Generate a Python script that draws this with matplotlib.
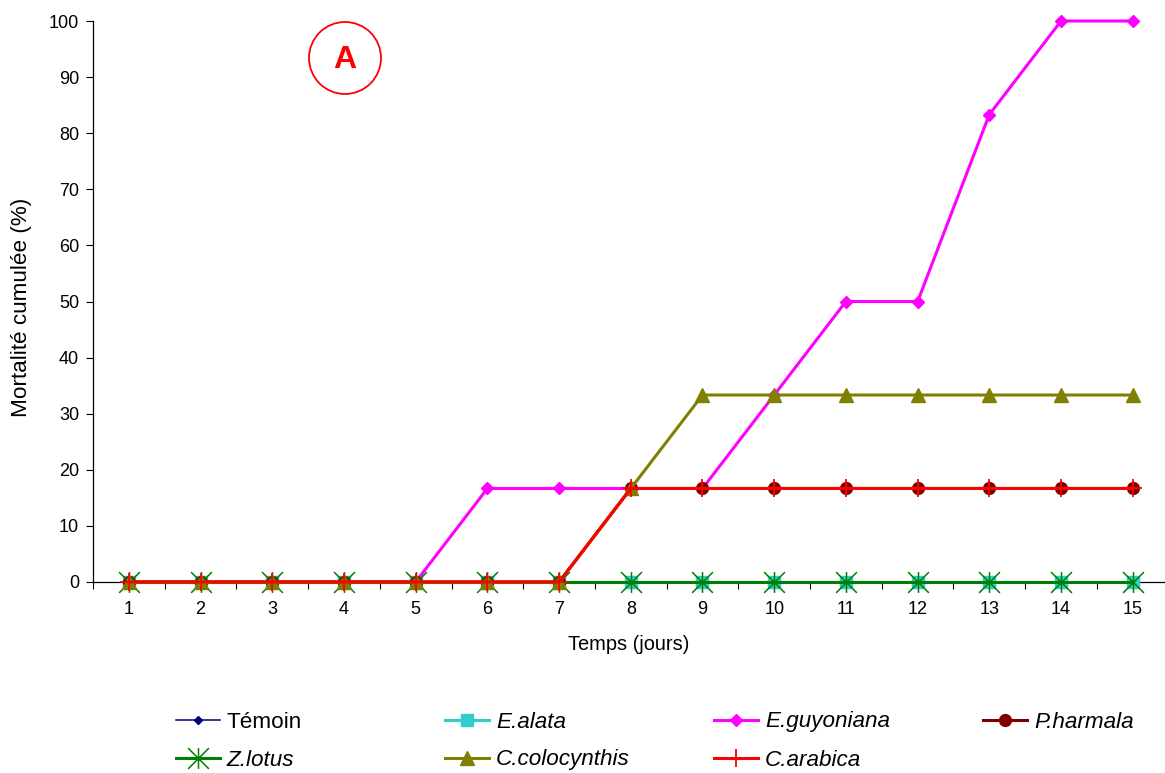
import numpy as np
import matplotlib
matplotlib.use("Agg")
import matplotlib.pyplot as plt
from matplotlib.path import Path
from matplotlib.patches import Circle
from matplotlib.lines import Line2D

plt.rcParams["font.family"] = ["Liberation Sans", "DejaVu Sans"]

days = list(range(1, 16))
temoin = [0] * 15
e_alata = [0] * 15
e_guyoniana = [0, 0, 0, 0, 0, 16.67, 16.67, 16.67, 16.67, 33.33, 50, 50, 83.33, 100, 100]
p_harmala = [0] * 7 + [16.67] * 8
z_lotus = [0] * 15
c_colocynthis = [0] * 7 + [16.67] + [33.33] * 7
c_arabica = [0] * 7 + [16.67] * 8

labels = ["Témoin", "E.alata", "E.guyoniana", "P.harmala", "Z.lotus", "C.colocynthis", "C.arabica"]
series = [temoin, e_alata, e_guyoniana, p_harmala, z_lotus, c_colocynthis, c_arabica]

STAR = Path([(-1, -1), (1, 1), (-1, 1), (1, -1), (0, -1), (0, 1)],
            [Path.MOVETO, Path.LINETO, Path.MOVETO, Path.LINETO, Path.MOVETO, Path.LINETO])
STYLE = [
    dict(color="#000080", lw=1.1, marker="D", ms=4.5),
    dict(color="#33CCCC", lw=2.2, marker="s", ms=8.5),
    dict(color="#FF00FF", lw=2.2, marker="D", ms=6.5),
    dict(color="#800000", lw=2.2, marker="o", ms=8.5),
    dict(color="#008000", lw=2.2, marker=STAR, ms=15, mew=1.1),
    dict(color="#808000", lw=2.2, marker="^", ms=9.5),
    dict(color="#FF0000", lw=2.2, marker="+", ms=13, mew=1.3),
]

fig = plt.figure(figsize=(11.65, 7.73), dpi=100)
ax = fig.add_axes([93 / 1165, 1 - 582 / 773, 1 - 93 / 1165, (582 - 21) / 773])

lines = []
for i, (y, lab, st) in enumerate(zip(series, labels, STYLE)):
    ln, = ax.plot(days, y, color=st["color"], lw=st["lw"], marker=st["marker"],
                  ms=st["ms"], mfc=st["color"], mec=st["color"], mew=st.get("mew", 1),
                  clip_on=False, zorder=3 + i)
    lines.append(ln)

ax.set_xlim(0.5, 15.45)
ax.set_ylim(0, 100)
ax.set_yticks(np.arange(0, 101, 10))
ax.set_xticks(np.arange(0.5, 15.5, 1))
ax.set_xticklabels([])
ax.set_xticks(days, minor=True)
ax.set_xticklabels([str(d) for d in days], minor=True)
ax.tick_params(axis="x", which="major", direction="out", length=5, width=0.8)
ax.tick_params(axis="x", which="minor", length=0, labelsize=13, pad=14)
ax.tick_params(axis="y", direction="out", length=5, width=0.8, labelsize=13, pad=5)
for s in ("top", "right"):
    ax.spines[s].set_visible(False)
for s in ("left", "bottom"):
    ax.spines[s].set_linewidth(0.9)

ax.set_xlabel("Temps (jours)", fontsize=14.4, labelpad=12)
fig.text(22 / 1165, 1 - 307 / 773, "Mortalité cumulée (%)", rotation=90,
         ha="center", va="center", fontsize=16.2)

# panel badge
fig.add_artist(Circle((3.45, (773 - 58) / 100), 0.36, transform=fig.dpi_scale_trans,
                      fill=False, ec="#FF0000", lw=1.3))
fig.text(345 / 1165, 1 - 60 / 773, "A", color="#FF0000", fontsize=23,
         fontweight="bold", ha="center", va="center")

# legend, laid out on a fixed grid like the original
col_x = [176, 445, 714, 983]
row_y = [722, 760]
for i, (ln, lab) in enumerate(zip(lines, labels)):
    r, c = divmod(i, 4)
    h = Line2D([], [], color=ln.get_color(), lw=ln.get_linewidth(),
               marker=ln.get_marker(), ms=ln.get_markersize(),
               mfc=ln.get_color(), mec=ln.get_color(), mew=ln.get_markeredgewidth())
    fig.legend(handles=[h], labels=[lab], loc="center left",
               bbox_to_anchor=(col_x[c] / 1165, 1 - row_y[r] / 773),
               frameon=False, borderpad=0, borderaxespad=0,
               handlelength=1.96, handletextpad=0.3, numpoints=1,
               prop=dict(size=16.2, style="normal" if i == 0 else "italic"))

fig.savefig("out.png", dpi=100, facecolor="white")
